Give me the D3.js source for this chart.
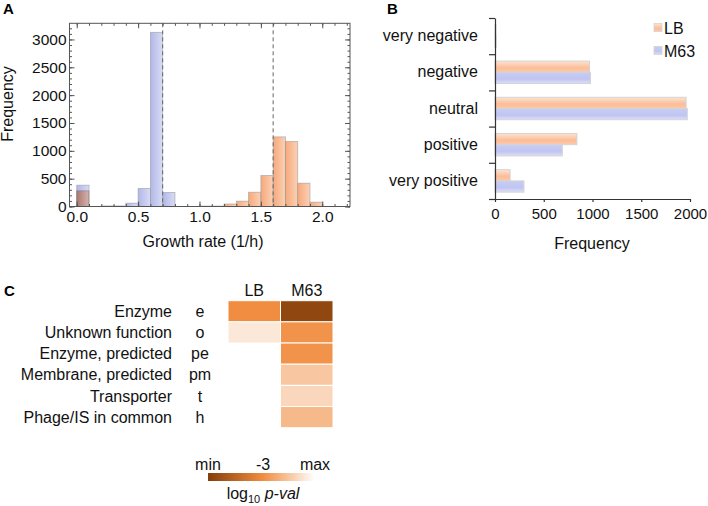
<!DOCTYPE html>
<html><head><meta charset="utf-8">
<script src="https://cdn.jsdelivr.net/npm/d3@7"></script>
<style>
body{margin:0;background:#fff;}
svg{display:block;font-family:"Liberation Sans",Arial,Helvetica,sans-serif;}
</style>
</head><body>
<svg id="chart" width="708" height="506"></svg>
<script>
// ---------- Panel A data ----------
const binStart = [0.0,0.1,0.2,0.3,0.4,0.5,0.6,0.7,0.8,0.9,1.0,1.1,1.2,1.3,1.4,1.5,1.6,1.7,1.8,1.9,2.0];
const m63Counts = [383,0,10,10,60,323,3128,251,0,0,0,0,0,0,0,0,0,0,0,0,0];
const lbCounts  = [281,0,0,0,0,0,0,0,0,0,8,8,45,96,257,556,1250,1166,419,78,0];
const growthMarkers = [0.7, 1.6];
const freqTicks = [0,500,1000,1500,2000,2500,3000];
const rateTicks = [0.0,0.5,1.0,1.5,2.0];

// ---------- Panel B data ----------
const effectCats = ["very negative","negative","neutral","positive","very positive"];
const effectSeries = ["LB","M63"];
const lbEffect  = [10, 970, 1960, 840, 155];
const m63Effect = [12, 980, 1972, 690, 297];
const effectTicks = [0,500,1000,1500,2000];

// ---------- Panel C data ----------
const funcNames = ["Enzyme","Unknown function","Enzyme, predicted","Membrane, predicted","Transporter","Phage/IS in common"];
const funcCodes = ["e","o","pe","pm","t","h"];
const heatCols = ["LB","M63"];
const lbPval  = [-3.0, -0.6, null, null, null, null];
const m63Pval = [-7.4, -2.85, -2.85, -1.47, -1.06, -1.84];
const legendStops = [-8, -3, 0];
const legendLabels = ["min", "-3", "max"];

const TXT = "#111";
const svg = d3.select("#chart");
const defs = svg.append("defs");

// ================= PANEL A =================
const fL = 69.5, fR = 350, fT = 23.3, fB = 206.5;
const xA = d3.scaleLinear().domain([-0.059, 2.226]).range([fL, fR]);
const yA = d3.scaleLinear().domain([0, 3290]).range([fB, fT]);

function hgrad(id, c1, c2) {
  const g = defs.append("linearGradient").attr("id", id).attr("x1",0).attr("x2",1).attr("y1",0).attr("y2",0);
  g.append("stop").attr("offset","0%").attr("stop-color",c1);
  g.append("stop").attr("offset","100%").attr("stop-color",c2);
}
hgrad("gBlueA", "#aab1e6", "#d6d9f4");
hgrad("gOrangeA", "#f5935a", "#fac5a3");

defs.append("clipPath").attr("id","clipA").append("rect")
  .attr("x", fL).attr("y", fT).attr("width", fR - fL).attr("height", fB - fT);

const gA = svg.append("g");
const barsA = gA.append("g").attr("clip-path","url(#clipA)").style("isolation","isolate");
const histSeries = [
  {key:"M63", counts:m63Counts, fill:"url(#gBlueA)", op:0.92, blend:"normal"},
  {key:"LB", counts:lbCounts, fill:"url(#gOrangeA)", op:0.8, blend:"multiply"}
];
histSeries.forEach(s => {
  barsA.append("g").style("mix-blend-mode", s.blend).selectAll("rect")
    .data(binStart.map((b,i) => ({b, c:s.counts[i]})).filter(d => d.c > 0))
    .join("rect")
    .attr("x", d => xA(d.b))
    .attr("width", d => xA(d.b + 0.1) - xA(d.b))
    .attr("y", d => yA(d.c))
    .attr("height", d => yA(0) - yA(d.c))
    .attr("fill", s.fill)
    .attr("fill-opacity", s.op)
    .attr("stroke", "#9a9a9a")
    .attr("stroke-opacity", 0.7)
    .attr("stroke-width", 0.8);
});

gA.append("g").selectAll("line").data(growthMarkers).join("line")
  .attr("x1", d => xA(d)).attr("x2", d => xA(d))
  .attr("y1", fT).attr("y2", fB)
  .attr("stroke", "#666").attr("stroke-width", 1).attr("stroke-dasharray", "4,3");

gA.append("rect").attr("x", fL).attr("y", fT).attr("width", fR - fL).attr("height", fB - fT)
  .attr("fill","none").attr("stroke","#555").attr("stroke-width",1);

const minorX = d3.range(0, 2.25, 0.1);
const minorY = d3.range(0, 3300, 100);
function styleAxis(g, labels) {
  g.select(".domain").remove();
  g.selectAll(".tick line").attr("stroke","#555");
  g.selectAll("text").attr("font-size", 15.5).attr("fill",TXT);
  if (!labels) g.selectAll("text").remove();
}
gA.append("g").attr("transform",`translate(0,${fB})`)
  .call(d3.axisBottom(xA).tickValues(minorX).tickSize(-2.5).tickFormat("")).call(g=>styleAxis(g,false));
gA.append("g").attr("transform",`translate(0,${fB})`)
  .call(d3.axisBottom(xA).tickValues(rateTicks).tickSize(-5).tickPadding(4.5).tickFormat(d3.format(".1f"))).call(g=>styleAxis(g,true));
gA.append("g").attr("transform",`translate(0,${fT})`)
  .call(d3.axisTop(xA).tickValues(minorX).tickSize(-2.5).tickFormat("")).call(g=>styleAxis(g,false));
gA.append("g").attr("transform",`translate(0,${fT})`)
  .call(d3.axisTop(xA).tickValues(rateTicks).tickSize(-5).tickFormat("")).call(g=>styleAxis(g,false));
gA.append("g").attr("transform",`translate(${fL},0)`)
  .call(d3.axisLeft(yA).tickValues(minorY).tickSize(-2.5).tickFormat("")).call(g=>styleAxis(g,false));
gA.append("g").attr("transform",`translate(${fL},0)`)
  .call(d3.axisLeft(yA).tickValues(freqTicks).tickSize(-5).tickPadding(3).tickFormat(d3.format("d"))).call(g=>styleAxis(g,true));
gA.append("g").attr("transform",`translate(${fR},0)`)
  .call(d3.axisRight(yA).tickValues(minorY).tickSize(-2.5).tickFormat("")).call(g=>styleAxis(g,false));
gA.append("g").attr("transform",`translate(${fR},0)`)
  .call(d3.axisRight(yA).tickValues(freqTicks).tickSize(-5).tickFormat("")).call(g=>styleAxis(g,false));

gA.append("text").attr("transform","translate(12.5,104) rotate(-90)")
  .attr("text-anchor","middle").attr("font-size",16).attr("fill",TXT).text("Frequency");
gA.append("text").attr("x",203).attr("y",247)
  .attr("text-anchor","middle").attr("font-size",16).attr("fill",TXT).text("Growth rate (1/h)");
svg.append("text").attr("x",3).attr("y",14).attr("font-size",15).attr("font-weight","bold").text("A");

// ================= PANEL B =================
const bL = 495, bR = 690, bT = 18, bB = 199;
const xB = d3.scaleLinear().domain([0, 2000]).range([bL, bR]);
const yB = d3.scaleBand().domain(effectCats).range([bT, bB]).paddingInner(0.38).paddingOuter(0.19);
const ySub = d3.scaleBand().domain(effectSeries).range([0, yB.bandwidth()]);
const yBoundary = d3.scaleLinear().domain([0, effectCats.length]).range([bT, bB]);

function vgrad(id, cEdge, cMid, cEnd) {
  const g = defs.append("linearGradient").attr("id", id).attr("x1",0).attr("x2",0).attr("y1",0).attr("y2",1);
  g.append("stop").attr("offset","0%").attr("stop-color",cEdge);
  g.append("stop").attr("offset","60%").attr("stop-color",cMid);
  g.append("stop").attr("offset","100%").attr("stop-color",cEnd);
}
vgrad("gOrangeB", "#fde3d2", "#fbbd98", "#fcc9a9");
vgrad("gBlueB", "#c9cdf4", "#bfc4f1", "#dde0f8");
const seriesFill = {LB:"url(#gOrangeB)", M63:"url(#gBlueB)"};
const seriesVals = {LB:lbEffect, M63:m63Effect};

const gB = svg.append("g");
effectSeries.forEach(s => {
  gB.append("g").selectAll("rect")
    .data(effectCats.map((c,i) => ({c, v:seriesVals[s][i]})))
    .join("rect")
    .attr("x", xB(0))
    .attr("y", d => yB(d.c) + ySub(s))
    .attr("width", d => xB(d.v) - xB(0))
    .attr("height", ySub.bandwidth())
    .attr("fill", seriesFill[s])
    .attr("stroke", "#d4d4d4").attr("stroke-width", 1);
});

gB.append("g").attr("transform",`translate(${bL},0)`)
  .call(d3.axisLeft(yBoundary).tickValues(d3.range(0, effectCats.length + 1)).tickSize(6).tickSizeOuter(0).tickFormat(""))
  .call(g => { g.selectAll("path,line").attr("stroke","#333").attr("stroke-width",1.2); });
gB.append("g").attr("transform",`translate(478,0)`)
  .call(d3.axisLeft(yB).tickSize(0).tickPadding(0))
  .call(g => { g.select(".domain").remove(); g.selectAll("text").attr("font-size",16).attr("fill",TXT); });
gB.append("g").attr("transform",`translate(0,${bB})`)
  .call(d3.axisBottom(xB).tickValues(effectTicks).tickSize(3).tickSizeOuter(0).tickPadding(6).tickFormat(d3.format("d")))
  .call(g => { g.selectAll("path,line").attr("stroke","#333").attr("stroke-width",1.2);
               g.selectAll("text").attr("font-size",15).attr("fill",TXT); });
gB.append("text").attr("x",592).attr("y",249).attr("text-anchor","middle")
  .attr("font-size",16).attr("fill",TXT).text("Frequency");

const legY = {LB:23.5, M63:46.5};
effectSeries.forEach(s => {
  gB.append("rect").attr("x",654).attr("y",legY[s]).attr("width",8).attr("height",8)
    .attr("fill", seriesFill[s]).attr("stroke","#d4d4d4").attr("stroke-width",0.8);
  gB.append("text").attr("x",664).attr("y",legY[s]+10).attr("font-size",16).attr("fill",TXT).text(s);
});
svg.append("text").attr("x",387).attr("y",14).attr("font-size",15).attr("font-weight","bold").text("B");

// ================= PANEL C =================
const color = d3.scaleLinear().domain(legendStops).range(["#843e0a","#f08d40","#ffffff"]).interpolate(d3.interpolateRgb);
const xC = d3.scaleBand().domain(heatCols).range([228, 333]);
const yC = d3.scaleBand().domain(funcNames).range([300.7, 427.7]);
const colVals = {LB:lbPval, M63:m63Pval};
const gC = svg.append("g");
const cells = [];
heatCols.forEach(col => funcNames.forEach((f,i) => { if (colVals[col][i] !== null) cells.push({col, f, v:colVals[col][i]}); }));
gC.append("g").selectAll("rect").data(cells).join("rect")
  .attr("x", d => xC(d.col)).attr("y", d => yC(d.f))
  .attr("width", xC.bandwidth()).attr("height", yC.bandwidth())
  .attr("fill", d => color(d.v)).attr("stroke","#fff").attr("stroke-width",1);

gC.append("g").selectAll("text").data(heatCols).join("text")
  .attr("x", d => xC(d) + xC.bandwidth()/2).attr("y", 296)
  .attr("text-anchor","middle").attr("font-size",16).attr("fill",TXT).text(d => d);
gC.append("g").selectAll("text").data(funcNames).join("text")
  .attr("x", 172).attr("y", d => yC(d) + yC.bandwidth()/2 + 5.6)
  .attr("text-anchor","end").attr("font-size",16).attr("fill",TXT).text(d => d);
gC.append("g").selectAll("text").data(funcCodes).join("text")
  .attr("x", 200).attr("y", (d,i) => yC(funcNames[i]) + yC.bandwidth()/2 + 5.6)
  .attr("text-anchor","middle").attr("font-size",16).attr("fill",TXT).text(d => d);
svg.append("text").attr("x",4).attr("y",296).attr("font-size",15).attr("font-weight","bold").text("C");

const xLeg = d3.scaleLinear().domain(legendStops).range([208, 263, 315]);
const lg = defs.append("linearGradient").attr("id","gLegend").attr("x1",0).attr("x2",1).attr("y1",0).attr("y2",0);
const sampleVals = d3.range(0, 21).map(i => legendStops[0] + (legendStops[2]-legendStops[0]) * i / 20);
sampleVals.forEach(v => {
  lg.append("stop").attr("offset", ((xLeg(v) - 208) / (315 - 208) * 100) + "%").attr("stop-color", color(v));
});
gC.append("rect").attr("x",208).attr("y",473).attr("width",107).attr("height",8).attr("fill","url(#gLegend)");
gC.append("g").selectAll("text").data(legendStops).join("text")
  .attr("x", d => xLeg(d)).attr("y", 469.5).attr("text-anchor","middle")
  .attr("font-size",16).attr("fill",TXT).text((d,i) => legendLabels[i]);
const lt = gC.append("text").attr("x",263).attr("y",499).attr("text-anchor","middle").attr("font-size",16).attr("fill",TXT);
lt.append("tspan").text("log");
lt.append("tspan").attr("font-size",11).attr("dy",4).text("10");
lt.append("tspan").attr("dy",-4).text(" ");
lt.append("tspan").attr("font-style","italic").text("p-val");
</script>
</body></html>
